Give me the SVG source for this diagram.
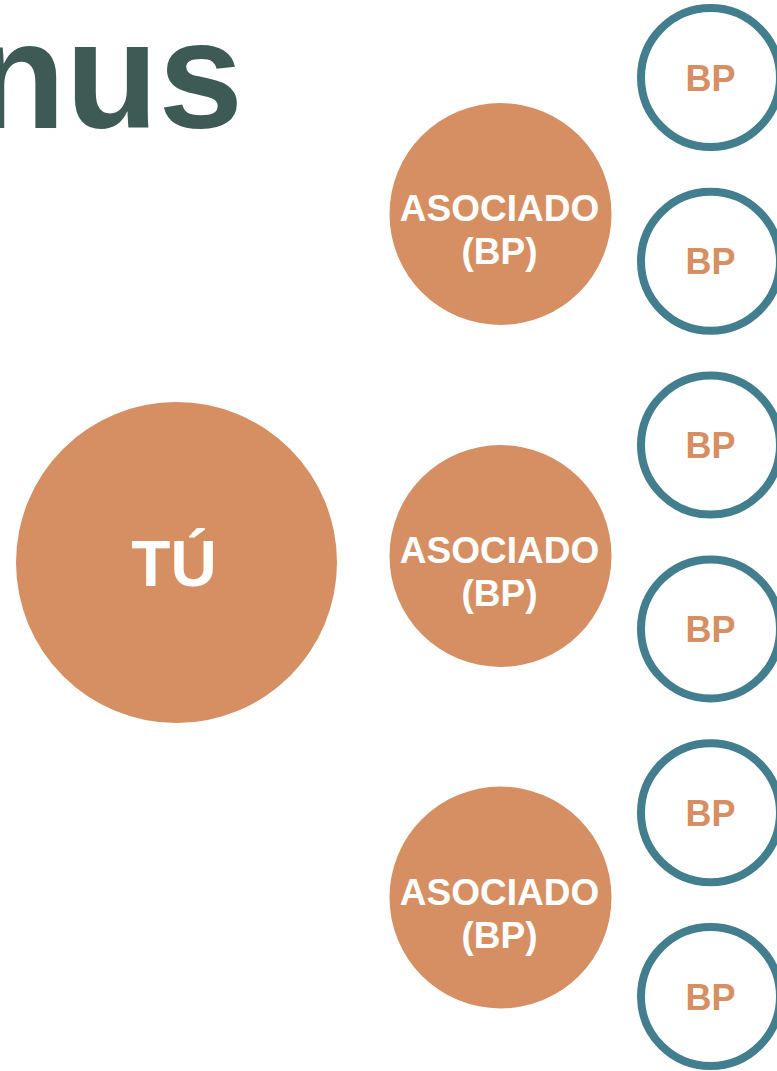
<svg xmlns="http://www.w3.org/2000/svg" width="777" height="1071" viewBox="0 0 777 1071">
<style>
.title{font-family:"Liberation Sans",Arial,sans-serif;font-weight:bold;font-size:152px;fill:#3E5A55}
.big{fill:#D68F63}
.lbl{font-family:"Liberation Sans",Arial,sans-serif;font-weight:bold;fill:#FFFFFF;text-anchor:middle}
.ring{fill:#FFFFFF;stroke:#437E8F;stroke-width:8}
.bp{font-family:"Liberation Sans",Arial,sans-serif;font-weight:bold;font-size:36px;fill:#D68F63;text-anchor:middle}
</style>
<rect width="777" height="1071" fill="#FFFFFF"/>
<text class="title" x="243" y="128" text-anchor="end">nus</text>
<g id="connectors"></g>
<g id="tu">
<circle class="big" cx="176.5" cy="562.5" r="160.5"/>
<text class="lbl" x="174" y="586" font-size="64">TÚ</text>
</g>
<g id="asociado1">
<circle class="big" cx="500.5" cy="214" r="111"/>
<text class="lbl" x="499.5" y="221" font-size="37">ASOCIADO</text>
<text class="lbl" x="499.5" y="264" font-size="37">(BP)</text>
</g>
<g id="asociado2">
<circle class="big" cx="500.5" cy="556" r="111"/>
<text class="lbl" x="499.5" y="563" font-size="37">ASOCIADO</text>
<text class="lbl" x="499.5" y="606" font-size="37">(BP)</text>
</g>
<g id="asociado3">
<circle class="big" cx="500.5" cy="897.5" r="111"/>
<text class="lbl" x="499.5" y="904.5" font-size="37">ASOCIADO</text>
<text class="lbl" x="499.5" y="947.5" font-size="37">(BP)</text>
</g>
<g id="bp1"><circle class="ring" cx="710.5" cy="77.5" r="69.5"/><text class="bp" x="710.5" y="90.5">BP</text></g>
<g id="bp2"><circle class="ring" cx="710.5" cy="261.3" r="69.5"/><text class="bp" x="710.5" y="274.3">BP</text></g>
<g id="bp3"><circle class="ring" cx="710.5" cy="445.1" r="69.5"/><text class="bp" x="710.5" y="458.1">BP</text></g>
<g id="bp4"><circle class="ring" cx="710.5" cy="628.9" r="69.5"/><text class="bp" x="710.5" y="641.9">BP</text></g>
<g id="bp5"><circle class="ring" cx="710.5" cy="812.7" r="69.5"/><text class="bp" x="710.5" y="825.7">BP</text></g>
<g id="bp6"><circle class="ring" cx="710.5" cy="996.5" r="69.5"/><text class="bp" x="710.5" y="1009.5">BP</text></g>
</svg>
